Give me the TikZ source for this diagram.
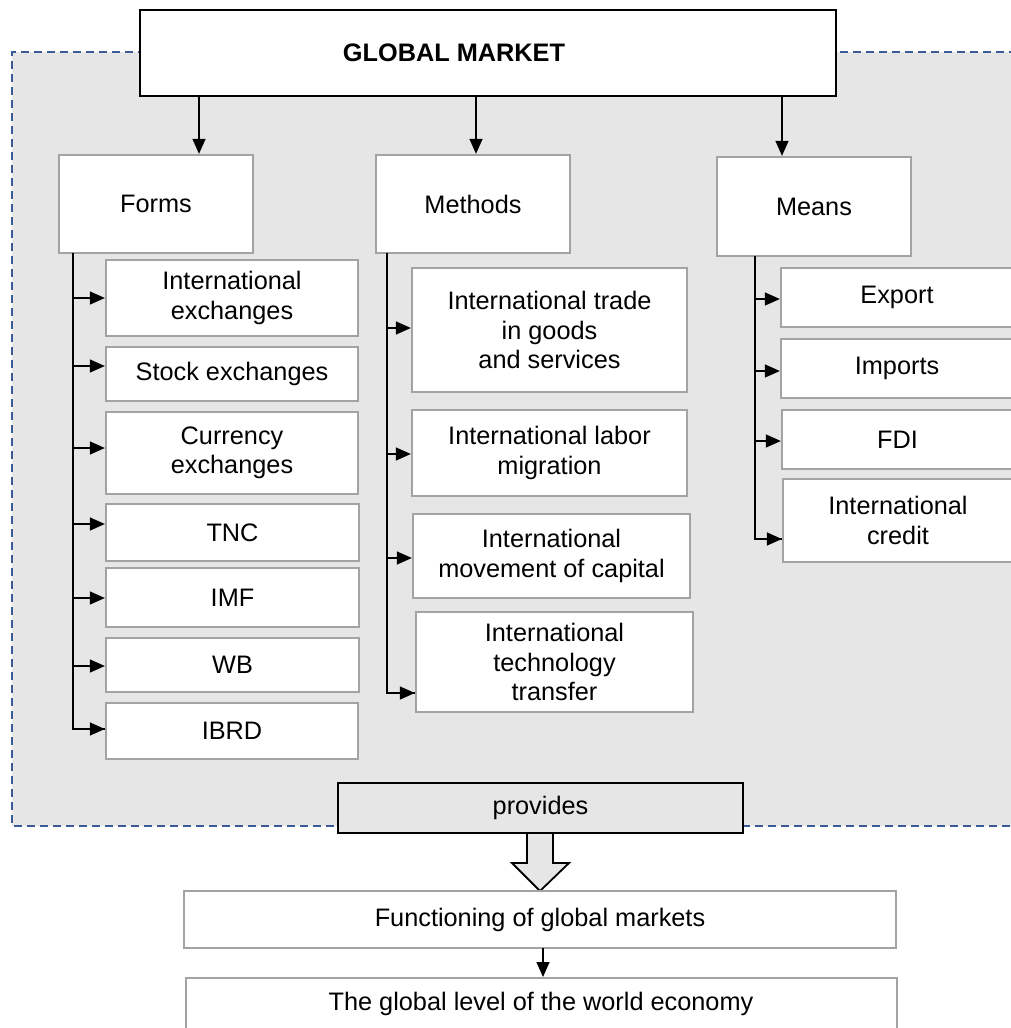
\documentclass[tikz,border=0pt]{standalone}
\usepackage{fontspec}
\setmainfont{Liberation Sans}
\usetikzlibrary{arrows.meta}
\definecolor{bggray}{HTML}{E6E6E6}
\definecolor{boxgray}{HTML}{A3A3A3}
\definecolor{dashblue}{HTML}{3A5A98}
\newcommand\bx[7][]{\node[box,#1,minimum width={#4-#2},minimum height={#5-#3}] (#6) at ({(#2+#4)/2},{(#3+#5)/2}) {#7};}
\tikzset{
  box/.style={draw=boxgray,line width=2.3pt,fill=white,inner sep=0pt,align=center,
    font=\fontsize{25.3}{29.5}\selectfont},
  heavybox/.style={draw=black,line width=2.6pt},
  conn/.style={line width=1.4pt,draw=black},
  arr/.style={conn,-{Triangle[length=15pt,width=13pt]}},
  region/.style={draw=dashblue,line width=2.3pt,dash pattern=on 8pt off 5pt},
  blockarrow/.style={draw=black,line width=1.8pt,fill=bggray,line join=miter}
}
\begin{document}
\begin{tikzpicture}[x=1pt,y=-1pt]
\useasboundingbox (0,0) rectangle (1011,1028);
% dashed background region
\fill[bggray] (12,52) rectangle (1030,826);
\draw[region] (1030,52) -- (12,52) -- (12,826) -- (1030,826);

% title
\node[box,heavybox,minimum width=696,minimum height=86] (gm) at (488,53) {\hspace*{-68pt}\textbf{GLOBAL MARKET}};

% level 1
\bx{59}{155}{253}{253}{forms}{Forms}
\bx{376}{155}{570}{253}{methods}{Methods}
\bx{717}{157}{911}{256}{means}{Means}

\draw[arr] (199,96) coordinate (gmf) -- (gmf |- forms.north);
\draw[arr] (476,96) coordinate (gmm) -- (gmm |- methods.north);
\draw[arr] (782,96) coordinate (gmn) -- (gmn |- means.north);

% forms children
\bx{106}{260}{358}{336}{fie}{International\\exchanges}
\bx{106}{347}{358}{401}{fse}{Stock exchanges}
\bx{106}{412}{358}{494}{fce}{Currency\\exchanges}
\bx{106}{504}{359}{561}{ftnc}{TNC}
\bx{106}{568}{359}{627}{fimf}{IMF}
\bx{106}{638}{359}{692}{fwb}{WB}
\bx{106}{703}{358}{759}{fibrd}{IBRD}

\coordinate (fx) at (73,253);
\draw[conn] (fx) |- (fibrd.west |- 0,729);
\draw[arr] (fx |- 0,298) -- (fie.west |- 0,298);
\draw[arr] (fx |- 0,366) -- (fse.west |- 0,366);
\draw[arr] (fx |- 0,448) -- (fce.west |- 0,448);
\draw[arr] (fx |- 0,524) -- (ftnc.west |- 0,524);
\draw[arr] (fx |- 0,598) -- (fimf.west |- 0,598);
\draw[arr] (fx |- 0,666) -- (fwb.west |- 0,666);
\draw[arr] (fx |- 0,729) -- (fibrd.west |- 0,729);

% methods children
\bx{412}{268}{687}{392}{mtr}{International trade\\in goods\\and services}
\bx{412}{410}{687}{496}{mlab}{International labor\\migration}
\bx{413}{514}{690}{598}{mcap}{International\\movement of capital}
\bx{416}{612}{693}{712}{mtech}{International\\technology\\transfer}

\coordinate (mx) at (387,253);
\draw[conn] (mx) |- (mtech.west |- 0,693);
\draw[arr] (mx |- 0,328) -- (mtr.west |- 0,328);
\draw[arr] (mx |- 0,454) -- (mlab.west |- 0,454);
\draw[arr] (mx |- 0,558) -- (mcap.west |- 0,558);
\draw[arr] (mx |- 0,693) -- (mtech.west |- 0,693);

% means children
\bx{781}{268}{1013}{327}{nex}{Export}
\bx{781}{339}{1013}{398}{nim}{Imports}
\bx{782}{410}{1013}{469}{nfdi}{FDI}
\bx{783}{479}{1013}{562}{ncr}{International\\credit}

\coordinate (nx) at (755,256);
\draw[conn] (nx) |- (ncr.west |- 0,539);
\draw[arr] (nx |- 0,299) -- (nex.west |- 0,299);
\draw[arr] (nx |- 0,371) -- (nim.west |- 0,371);
\draw[arr] (nx |- 0,441) -- (nfdi.west |- 0,441);
\draw[arr] (nx |- 0,539) -- (ncr.west |- 0,539);

% provides + block arrow
\draw[blockarrow] (527,826) -- (527,863) -- (512,863) -- (540,891) -- (569,863) -- (553,863) -- (553,826) -- cycle;
\bx[heavybox,fill=bggray]{338}{783}{743}{833}{prov}{provides}

% bottom boxes
\bx{184}{891}{896}{948}{func}{Functioning of global markets}
\node[box,minimum width={897-186},minimum height={1060-977},anchor=north] (world) at (541.5,977) {};
\node[font=\fontsize{25.3}{29.5}\selectfont,inner sep=0pt] (worldtext) at (541,1004) {The global level of the world economy};
\draw[arr] (543,948) coordinate (fa) -- (fa |- world.north);
\end{tikzpicture}
\end{document}
